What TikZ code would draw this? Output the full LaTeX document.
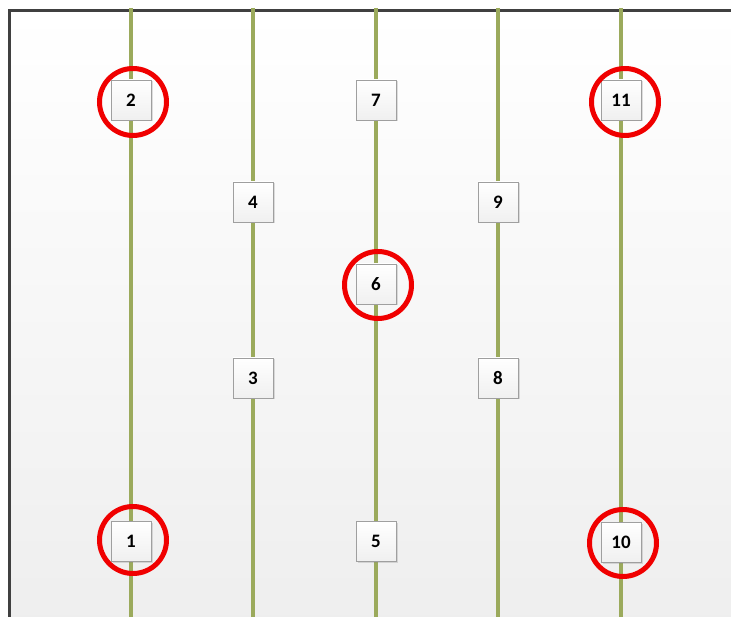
\documentclass[tikz,border=0pt]{standalone}
\usepackage{fontspec}
\setmainfont{Carlito}
\usepackage{xcolor}
\usepackage{tikz}
\usetikzlibrary{positioning,shadows,backgrounds}

\definecolor{railgreen}{RGB}{155,170,92}
\definecolor{framegray}{RGB}{64,64,64}
\definecolor{ringred}{RGB}{240,0,0}

\begin{document}
\begin{tikzpicture}[x=1pt,y=-1pt,
  rail/.style={line width=4.5pt,railgreen},
  stopbox/.style={draw=gray!75,line width=0.8pt,top color=white,bottom color=gray!12,
    minimum width=40pt,minimum height=40pt,inner sep=0pt,
    font=\fontsize{19}{22}\selectfont\bfseries,
    drop shadow={shadow xshift=1.5pt,shadow yshift=-1.5pt,opacity=0.25,fill=gray}},
  ring/.style={circle,draw=ringred,line width=5pt,minimum size=67pt,inner sep=0pt}]
  \useasboundingbox (0,0) rectangle (731,617);

  % track ends
  \coordinate (t1) at (131,8);   \coordinate (b1) at (131,617);
  \coordinate (t2) at (253,8);   \coordinate (b2) at (253,617);
  \coordinate (t3) at (376,8);   \coordinate (b3) at (376,617);
  \coordinate (t4) at (498,8);   \coordinate (b4) at (498,617);
  \coordinate (t5) at (621,8);   \coordinate (b5) at (621,617);

  \node[stopbox] (n1)  at (131,541) {1};
  \node[stopbox] (n2)  at (131,100) {2};
  \node[stopbox] (n3)  at (253,378) {3};
  \node[stopbox] (n4)  at (253,202) {4};
  \node[stopbox] (n5)  at (376,541) {5};
  \node[stopbox] (n6)  at (376,284) {6};
  \node[stopbox] (n7)  at (376,100) {7};
  \node[stopbox] (n8)  at (498,378) {8};
  \node[stopbox] (n9)  at (498,202) {9};
  \node[stopbox] (n10) at (621,542) {10};
  \node[stopbox] (n11) at (621,100) {11};

  \begin{scope}[on background layer]
    \fill[top color=white,bottom color=gray!13] (9,10) rectangle (731,617);
    \draw[framegray,line width=3pt] (9,617) -- (9,10.5) -- (731,10.5);
    \draw[rail] (t1) -- (n2) -- (n1) -- (b1);
    \draw[rail] (t2) -- (n4) -- (n3) -- (b2);
    \draw[rail] (t3) -- (n7) -- (n6) -- (n5) -- (b3);
    \draw[rail] (t4) -- (n9) -- (n8) -- (b4);
    \draw[rail] (t5) -- (n11) -- (n10) -- (b5);
  \end{scope}

  \node[ring] (r2)  at (133,102) {};
  \node[ring] (r11) at (625,102) {};
  \node[ring] (r6)  at (378,285) {};
  \node[ring] (r1)  at (133,540) {};
  \node[ring] (r10) at (623,543) {};
\end{tikzpicture}
\end{document}
